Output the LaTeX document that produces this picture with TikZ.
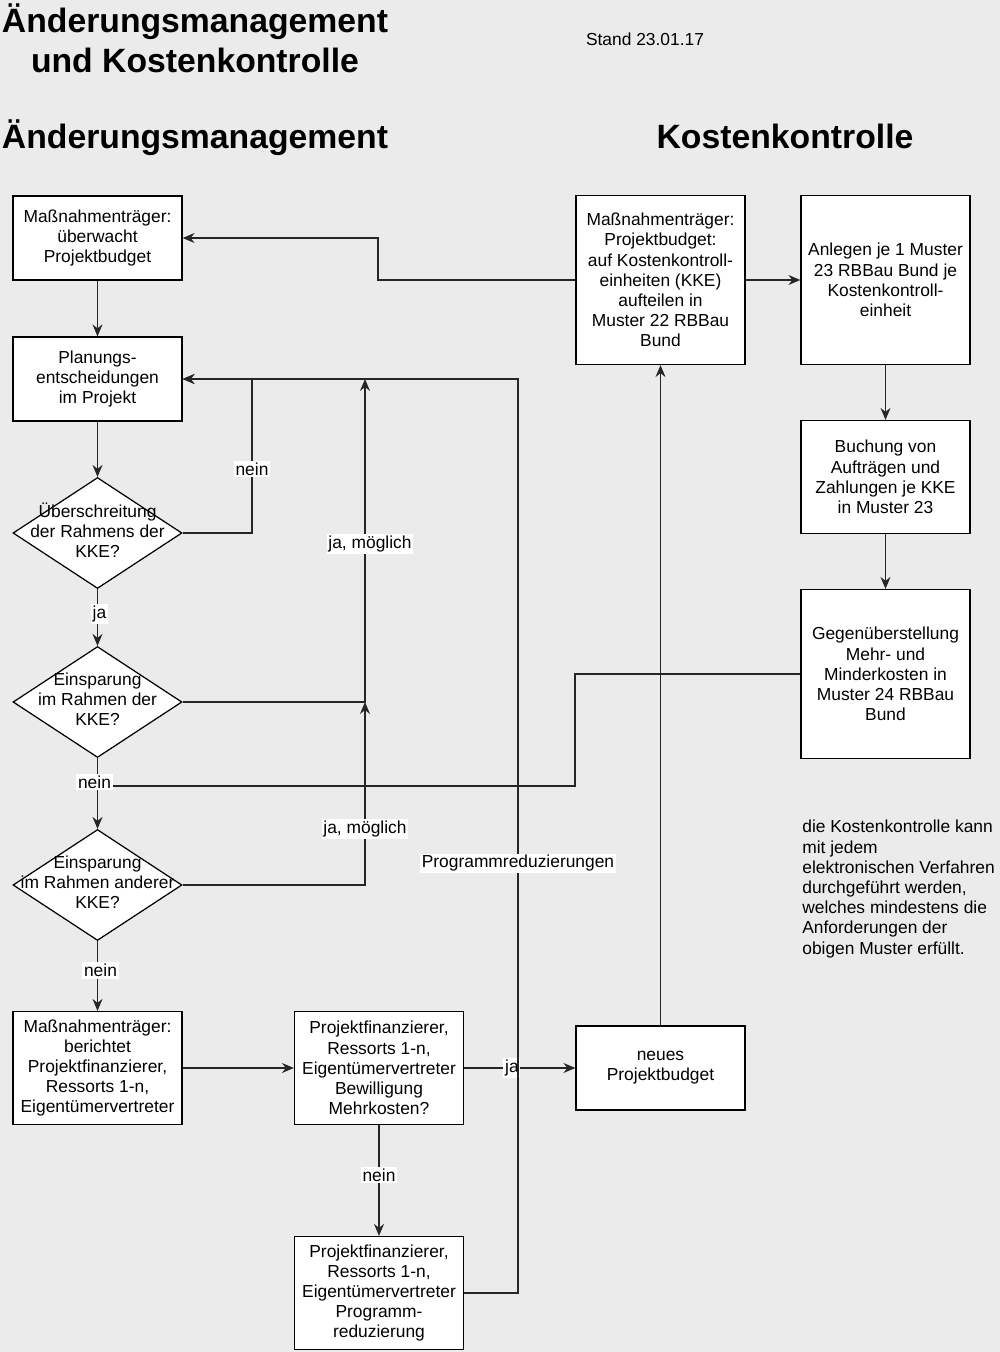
\documentclass[tikz,border=0pt]{standalone}
\usepackage{fontspec}
\setmainfont{Liberation Sans}
\usetikzlibrary{shapes.geometric, arrows.meta}
\definecolor{bg}{HTML}{EBEBEB}
\definecolor{linie}{HTML}{262626}

\begin{document}
\begin{tikzpicture}[x=0.02cm, y=-0.02cm]
        \tikzset{txt/.style = {font=\fontsize{9.9}{11.5}\selectfont}}
        \tikzset{head/.style = {font=\bfseries\fontsize{19.2}{22.7}\selectfont, inner sep=0pt}}
        \tikzset{box/.style = {txt, draw, fill=white, line width=0.7pt, minimum width=3.38cm, align=center, inner sep=1pt}}
        \tikzset{dec/.style = {diamond, draw, fill=white, line width=0.7pt, minimum width=3.38cm, minimum height=2.22cm, inner sep=0pt}}
        \tikzset{dectext/.style = {txt, align=center, inner sep=0pt, yshift=0.06cm}}
        \tikzset{lbl/.style = {txt, fill=white, inner sep=1pt}}
        \tikzset{ln/.style = {draw=linie, line width=0.7pt}}
        \tikzset{arr/.style = {ln, -{Stealth[length=2.4mm, width=2mm, inset=0.8mm]}}}

        \fill[bg] (0,0) rectangle (1000,1352);
        \useasboundingbox (0,0) rectangle (1000,1352);

        % titles
        \node[head, align=center] (titel) at (195,38) {Änderungsmanagement\\und Kostenkontrolle};
        \node[txt, anchor=base, inner sep=0pt] (stand) at (645,45) {Stand 23.01.17};
        \node[head, anchor=base] (hAM) at (195,148) {Änderungsmanagement};
        \node[head, anchor=base] (hKK) at (785,148) {Kostenkontrolle};

        % left column
        \node[box, minimum height=1.68cm] (mtueber) at (97.5,238) {Maßnahmenträger:\\überwacht\\Projektbudget};
        \node[box, minimum height=1.68cm] (plan) at (97.5,379) {Planungs-\\entscheidungen\\im Projekt};
        \node[dec] (ueber) at (97.5,533) {};
        \node[dectext] (uebert) at (ueber) {Überschreitung\\der Rahmens der\\KKE?};
        \node[dec] (einsp1) at (97.5,702) {};
        \node[dectext] (einsp1t) at (einsp1) {Einsparung\\im Rahmen der\\KKE?};
        \node[dec] (einsp2) at (97.5,885) {};
        \node[dectext] (einsp2t) at (einsp2) {Einsparung\\im Rahmen anderer\\KKE?};
        \node[box, minimum height=2.26cm] (mtber) at (97.5,1068) {Maßnahmenträger:\\berichtet\\Projektfinanzierer,\\Ressorts 1-n,\\Eigentümervertreter};

        % bottom middle
        \node[box, minimum height=2.26cm] (bewill) at (379,1068) {Projektfinanzierer,\\Ressorts 1-n,\\Eigentümervertreter\\Bewilligung\\Mehrkosten?};
        \node[box, minimum height=2.26cm] (progred) at (379,1293) {Projektfinanzierer,\\Ressorts 1-n,\\Eigentümervertreter\\Programm-\\reduzierung};
        \node[box, minimum height=1.68cm] (neubudget) at (660.5,1068) {neues\\Projektbudget};

        % right part
        \node[box, minimum height=3.38cm] (mtkke) at (660.5,280) {Maßnahmenträger:\\Projektbudget:\\auf Kostenkontroll-\\einheiten (KKE)\\aufteilen in\\Muster 22 RBBau\\Bund};
        \node[box, minimum height=3.38cm] (anlegen) at (885.5,280) {Anlegen je 1 Muster\\23 RBBau Bund je\\Kostenkontroll-\\einheit};
        \node[box, minimum height=2.26cm] (buchung) at (885.5,477) {Buchung von\\Aufträgen und\\Zahlungen je KKE\\in Muster 23};
        \node[box, minimum height=3.38cm] (gegen) at (885.5,674) {Gegenüberstellung\\Mehr- und\\Minderkosten in\\Muster 24 RBBau\\Bund};
        \node[txt, anchor=north west, align=left, inner sep=0pt] (hinweis) at (802,820) {die Kostenkontrolle kann\\mit jedem\\elektronischen Verfahren\\durchgeführt werden,\\welches mindestens die\\Anforderungen der\\obigen Muster erfüllt.};

        \coordinate (j1) at (einsp1.south |- 0,786);

        % connectors
        \draw[arr] (mtkke.west) -| (378,238) -- (mtueber.east);
        \draw[arr] (mtueber) -- (plan);
        \draw[arr] (plan) -- (ueber);
        \draw[arr] (ueber.east) -| node[lbl, pos=0.708] {nein} (252,379) -- (plan.east);
        \draw[arr] (ueber) -- node[lbl, pos=0.44, xshift=0.04cm] {ja} (einsp1);
        \draw[arr] (einsp1.east) -| node[lbl, pos=0.745, xshift=0.1cm] {ja, möglich} (365,379);
        \draw[arr] (einsp2.east) -| node[lbl, pos=0.653] {ja, möglich} (365,702);
        \draw[ln] (gegen.west) -- (575,674) |- (j1);
        \draw[arr] (einsp1) -- node[lbl, pos=0.34, xshift=-0.06cm] {nein} (einsp2);
        \draw[arr] (einsp2) -- node[lbl, pos=0.42, xshift=0.06cm] {nein} (mtber);
        \draw[arr] (mtber) -- (bewill);
        \draw[arr] (bewill) -- node[lbl, pos=0.43] {ja} (neubudget);
        \draw[arr] (bewill) -- node[lbl, pos=0.45] {nein} (progred);
        \draw[arr] (progred.east) -| node[lbl, pos=0.735] {Programmreduzierungen} (518,379) -- (plan.east);
        \draw[arr] (neubudget) -- (mtkke);
        \draw[arr] (mtkke) -- (anlegen);
        \draw[arr] (anlegen) -- (buchung);
        \draw[arr] (buchung) -- (gegen);

\end{tikzpicture}
\end{document}
